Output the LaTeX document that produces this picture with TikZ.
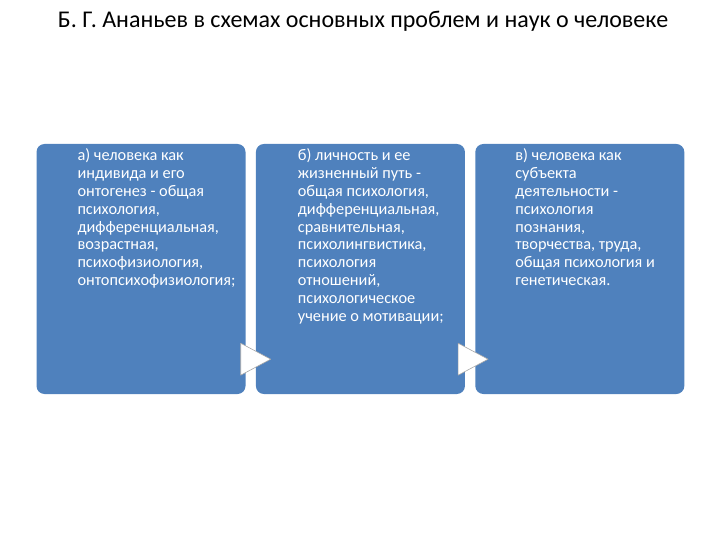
\documentclass[tikz,border=0pt]{standalone}
\usepackage{fontspec}
\setmainfont{Carlito}
\usetikzlibrary{positioning}
\usetikzlibrary{calc}
\definecolor{stageblue}{HTML}{4F81BD}
\tikzset{
        stage/.style={fill=stageblue, draw=none, rounded corners=8pt,
                minimum width=209pt, minimum height=250pt, inner sep=0pt},
        stagetext/.style={anchor=north west, inner sep=0pt, text=white,
                align=left, font=\fontsize{16.3}{17.8}\selectfont},
        pointer/.style={fill=white, draw=gray!70, line width=0.6pt, line join=round}
}

\begin{document}
\begin{tikzpicture}[x=1pt, y=-1pt]
        \useasboundingbox (0,0) rectangle (720,540);
        \node[font=\fontsize{24}{28}\selectfont, anchor=base] (title) at (363,28)
                {Б. Г. Ананьев в схемах основных проблем и наук о человеке};
        \node[stage] (boxA) at (141,269) {};
        \node[stage, right=10pt of boxA] (boxB) {};
        \node[stage, right=10pt of boxB] (boxC) {};
        \node[stagetext] (textA) at ($(boxA.north west)+(41,5)$)
                {а) человека как\\индивида и его\\онтогенез - общая\\психология,\\дифференциальная,\\возрастная,\\психофизиология,\\онтопсихофизиология;};
        \node[stagetext] (textB) at ($(boxB.north west)+(42,5)$)
                {б) личность и ее\\жизненный путь -\\общая психология,\\дифференциальная,\\сравнительная,\\психолингвистика,\\психология\\отношений,\\психологическое\\учение о мотивации;};
        \node[stagetext] (textC) at ($(boxC.north west)+(40,5)$)
                {в) человека как\\субъекта\\деятельности -\\психология\\познания,\\творчества, труда,\\общая психология и\\генетическая.};
        \draw[pointer] ($(boxA.south east)+(-5,-51)$) -- ($(boxA.south east)+(25,-35)$)
                -- ($(boxA.south east)+(-5,-19)$) -- cycle;
        \draw[pointer] ($(boxB.south east)+(-7,-51)$) -- ($(boxB.south east)+(23,-35)$)
                -- ($(boxB.south east)+(-7,-19)$) -- cycle;
\end{tikzpicture}
\end{document}
